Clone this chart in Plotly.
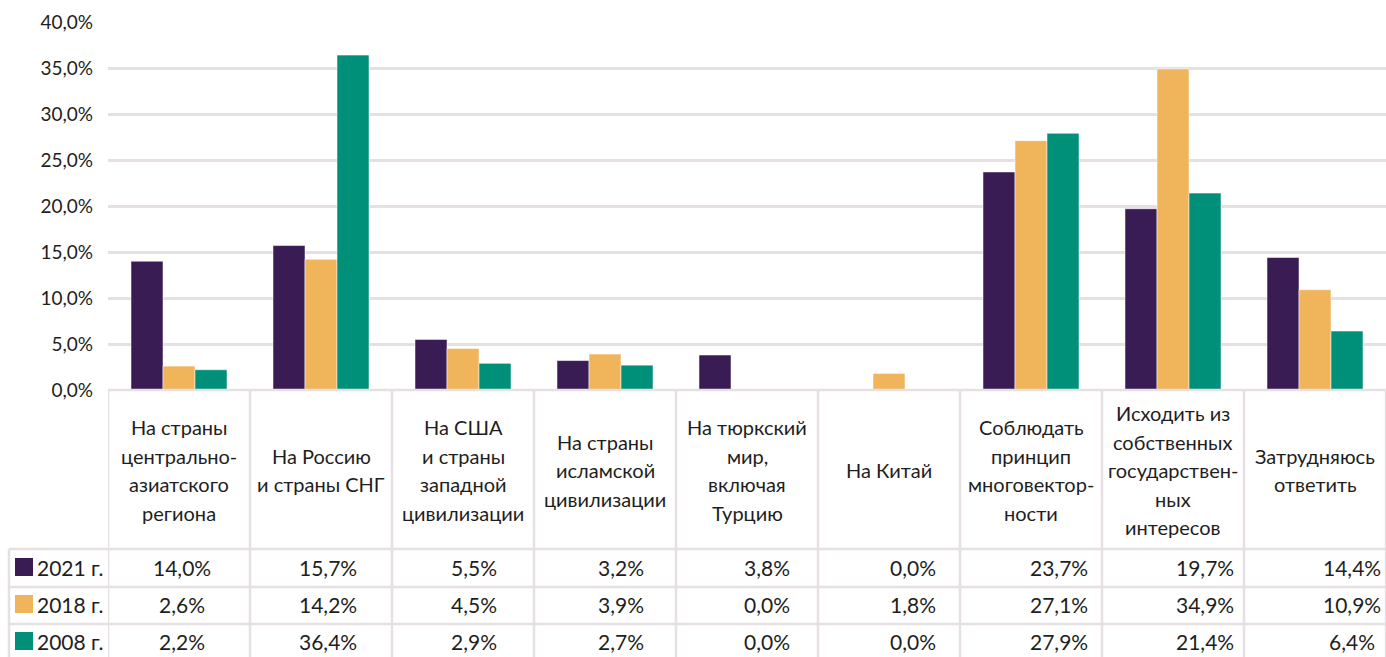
import plotly.graph_objects as go

categories = [
    ["На страны", "центрально-", "азиатского", "региона"],
    ["На Россию", "и страны СНГ"],
    ["На США", "и страны", "западной", "цивилизации"],
    ["На страны", "исламской", "цивилизации"],
    ["На тюркский", "мир,", "включая", "Турцию"],
    ["На Китай"],
    ["Соблюдать", "принцип", "многовектор-", "ности"],
    ["Исходить из", "собственных", "государствен-", "ных", "интересов"],
    ["Затрудняюсь", "ответить"],
]
series_names = ["2021 г.", "2018 г.", "2008 г."]
values_2021 = [14.0, 15.7, 5.5, 3.2, 3.8, 0.0, 23.7, 19.7, 14.4]
values_2018 = [2.6, 14.2, 4.5, 3.9, 0.0, 1.8, 27.1, 34.9, 10.9]
values_2008 = [2.2, 36.4, 2.9, 2.7, 0.0, 0.0, 27.9, 21.4, 6.4]
y_ticks = [0, 5, 10, 15, 20, 25, 30, 35, 40]

series = [values_2021, values_2018, values_2008]
colors = ["#3a1c54", "#f0b45b", "#00907a"]

W, H = 1386, 657
L, R, T, B = 108, 0, 22, 267
plot_w = W - L - R
plot_h = H - T - B
n = len(categories)
FONT = "Lato, Noto Sans, sans-serif"
TXT = "#1e1e1e"
GRID = "#e6e0e3"


def pct(v):
    return f"{v:.1f}%".replace(".", ",")


def px_x(px):
    return (px - L) / plot_w


def px_y(py):
    return (H - B - py) / plot_h


fig = go.Figure()
for name, vals, col in zip(series_names, series, colors):
    fig.add_trace(
        go.Bar(
            x=list(range(n)),
            y=vals,
            name=name,
            marker={"color": col, "line": {"color": "rgba(255,255,255,0.5)", "width": 1}},
            showlegend=False,
        )
    )

shapes = []
annotations = []
line_style = {"color": GRID, "width": 2.5}

# table frame
header_top, row_tops, table_bottom = 390, [549, 587, 624], 660
shapes.append(dict(type="line", xref="paper", yref="paper", x0=0, x1=1,
                   y0=px_y(header_top), y1=px_y(header_top), line=line_style))
for rt in row_tops:
    shapes.append(dict(type="line", xref="paper", yref="paper", x0=px_x(9), x1=1,
                       y0=px_y(rt), y1=px_y(rt), line=line_style))
for i in range(n + 1):
    shapes.append(dict(type="line", xref="x", yref="paper", x0=i - 0.5, x1=i - 0.5,
                       y0=px_y(header_top), y1=px_y(table_bottom), line=line_style))
shapes.append(dict(type="line", xref="paper", yref="paper", x0=px_x(9), x1=px_x(9),
                   y0=px_y(row_tops[0]), y1=px_y(table_bottom), line=line_style))

# header text, one annotation per line
line_h = 28.5
header_mid = 470
for i, lines in enumerate(categories):
    k = len(lines)
    for j, txt in enumerate(lines):
        py = header_mid + (j - (k - 1) / 2) * line_h
        annotations.append(dict(x=i, xref="x", y=px_y(py), yref="paper", text=txt,
                                showarrow=False, xanchor="center", yanchor="middle",
                                font={"size": 20, "color": TXT, "family": FONT}))

# data rows
row_mid = [567, 604, 641]
for r, (name, vals, col) in enumerate(zip(series_names, series, colors)):
    cy = row_mid[r]
    shapes.append(dict(type="rect", xref="paper", yref="paper", x0=px_x(15), x1=px_x(33),
                       y0=px_y(cy - 9), y1=px_y(cy + 9), fillcolor=col, line={"width": 0}))
    annotations.append(dict(x=px_x(35), xref="paper", y=px_y(cy), yref="paper", text=name,
                            showarrow=False, xanchor="left", yanchor="middle",
                            font={"size": 21, "color": TXT, "family": FONT}))
    for i, v in enumerate(vals):
        annotations.append(dict(x=i + (3 + 4.2 * i) / (plot_w / n), xref="x", y=px_y(cy),
                                yref="paper", text=pct(v), showarrow=False,
                                xanchor="center", yanchor="middle",
                                font={"size": 21, "color": TXT, "family": FONT}))

fig.update_layout(
    width=W,
    height=H,
    margin={"l": L, "r": R, "t": T, "b": B},
    paper_bgcolor="white",
    plot_bgcolor="white",
    barmode="group",
    bargap=0.324,
    bargroupgap=0,
    font={"family": FONT, "color": TXT, "size": 18},
    shapes=shapes,
    annotations=annotations,
)
fig.update_xaxes(range=[-0.5, n - 0.5], showticklabels=False, showgrid=False,
                 zeroline=False, showline=False, ticks="")
fig.update_yaxes(range=[0, 40], tickvals=y_ticks, ticktext=[pct(t) for t in y_ticks],
                 showgrid=True, gridcolor=GRID, gridwidth=2.5, zeroline=False,
                 showline=False, ticks="", tickfont={"size": 19, "color": TXT},
                 ticklabelstandoff=14)

fig.write_html("out.html", config={"displayModeBar": False},
               post_script="document.body.style.margin='0px';")
